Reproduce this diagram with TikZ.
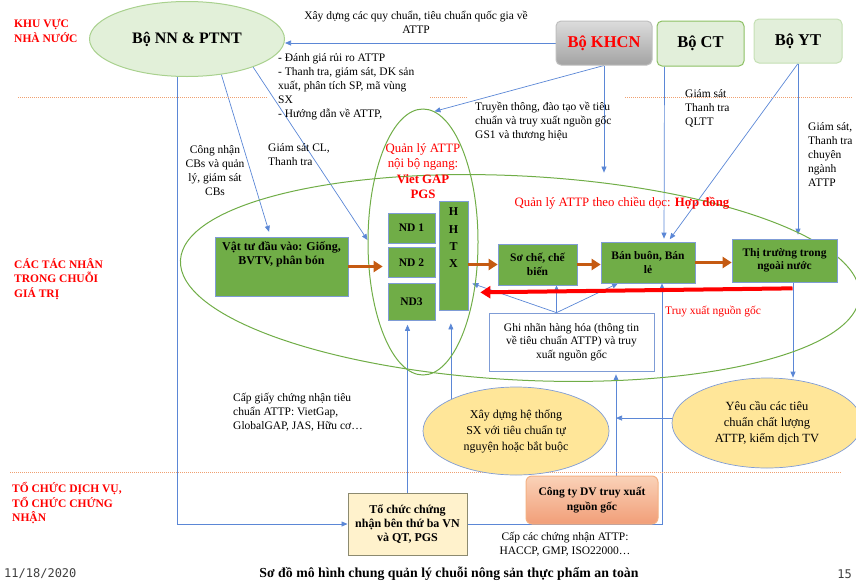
\documentclass[tikz,border=0pt]{standalone}
\usepackage{fontspec}
\setmainfont{Liberation Serif}
\newfontfamily\datefont{DejaVu Sans Mono}
\usepackage{tikz}
\usetikzlibrary{arrows.meta}
\usetikzlibrary{positioning, shapes.geometric, calc}
\definecolor{nnfill}{HTML}{E2F0D9}
\definecolor{nnline}{HTML}{A9D18E}
\definecolor{govfill}{HTML}{E2EFDA}
\definecolor{ctline}{HTML}{8CC063}
\definecolor{ytline}{HTML}{C5E0B4}
\definecolor{khtop}{HTML}{DCDCDC}
\definecolor{khbot}{HTML}{A3A3A3}
\definecolor{khline}{HTML}{BFBFBF}
\definecolor{boxgreen}{HTML}{70AD47}
\definecolor{boxblue}{HTML}{7F9CD6}
\definecolor{lineblue}{HTML}{5B87D6}
\definecolor{ellgreen}{HTML}{70AD47}
\definecolor{orarr}{HTML}{C55A11}
\definecolor{labred}{HTML}{FF0000}
\definecolor{yelfill}{HTML}{FFE699}
\definecolor{tcfill}{HTML}{FFF2CC}
\definecolor{tcline}{HTML}{8C8A70}
\definecolor{dvtop}{HTML}{FAD2B8}
\definecolor{dvbot}{HTML}{F19E78}
\definecolor{dvline}{HTML}{F4B183}
\definecolor{sepor}{HTML}{F0A070}
\newcommand{\setfs}[2]{\fontsize{#1}{#2}\selectfont}
\pgfdeclarelayer{background}
\pgfsetlayers{background,main}
\tikzset{
  lbl/.style={inner sep=0pt, font=\setfs{11.5}{14}},
  rlbl/.style={lbl, text=labred},
  sect/.style={inner sep=0pt, anchor=west, align=left, text=labred, font=\bfseries\setfs{11.5}{14.5}},
  gbox/.style={draw=boxblue, fill=boxgreen, line width=0.7pt, inner sep=0pt, align=center, font=\bfseries\setfs{11.5}{13.5}},
  gov/.style={rounded corners=5pt, line width=1pt, inner sep=0pt, minimum height=44pt, font=\bfseries\setfs{16.5}{18}},
  yell/.style={ellipse, draw=boxblue, fill=yelfill, line width=0.7pt, inner sep=0pt, align=center, font=\setfs{12}{16}},
  ring/.style={ellipse, draw=ellgreen, line width=1pt, inner sep=0pt},
  bl/.style={draw=lineblue, line width=0.7pt, -{Triangle[width=5pt,length=6pt]}},
  oarr/.style={draw=orarr, line width=3.5pt, -{Triangle[width=11pt,length=9pt]}},
  rarr/.style={draw=labred, line width=4pt, -{Triangle[width=12pt,length=10pt]}},
  divline/.style={draw=sepor, line width=0.8pt, dash pattern=on 1pt off 1pt}
}
\begin{document}
\begin{tikzpicture}[x=1pt, y=-1pt]
\useasboundingbox (0,0) rectangle (856,584);
\draw[divline] (18,97) -- (268,97) (430,97) -- (467,97) (625,97) -- (852,97);
\draw[divline] (10,472) -- (842,472);

\node[ring, minimum width=680pt, minimum height=204pt, rotate=-3] (chain) at (520,278) {};
\node[ring, minimum width=110pt, minimum height=266pt] (hz) at (423,242) {};

\node[ellipse, fill=nnfill, draw=nnline, line width=1pt, minimum width=195pt, minimum height=75pt, inner sep=0pt, font=\bfseries\setfs{16}{18}] (nn) at (187,39) {Bộ NN \& PTNT};
\node[gov, top color=khtop, bottom color=khbot, draw=khline, text=labred, minimum width=96pt] (khcn) at (604,43) {Bộ KHCN};
\node[gov, fill=govfill, draw=ctline, minimum width=87pt, minimum height=45pt] (ct) at (700.5,43.5) {Bộ CT};
\node[gov, fill=govfill, draw=ytline, minimum width=88pt] (yt) at (798,41) {Bộ YT};

\node[gbox, minimum width=133pt, minimum height=59pt] (vt) at (281.5,266.5) {};
\node[lbl, font=\bfseries\setfs{12}{14}, align=center, below=5pt of vt.north] (vtt) {Vật tư đầu vào: Giống,\\BVTV, phân bón};
\node[gbox, minimum width=47pt, minimum height=30pt] (nd1) at (411.5,228) {ND 1};
\node[gbox, minimum width=47pt, minimum height=30pt, below=4pt of nd1] (nd2) {ND 2};
\node[gbox, minimum width=47pt, minimum height=37pt, below=5pt of nd2] (nd3) {ND3};
\node[gbox, minimum width=29pt, minimum height=109pt] (hhtx) at (453.5,255.5) {};
\node[lbl, font=\bfseries\setfs{12}{17.3}, align=center, below=7pt of hhtx.north] (hhtxt) {H\\H\\T\\X};
\node[gbox, minimum width=79pt, minimum height=41pt] (sc) at (537.5,264.5) {Sơ chế, chế\\biến};
\node[gbox, minimum width=94pt, minimum height=41pt] (bb) at (648,262.5) {Bán buôn, Bán\\lẻ};
\node[gbox, minimum width=105pt, minimum height=43pt] (tt) at (784.5,260.5) {Thị trường trong\\ngoài nước};

\node[draw=boxblue, fill=white, line width=0.7pt, inner sep=0pt, minimum width=165pt, minimum height=58pt, align=center, font=\setfs{11.5}{13.5}] (gn) at (571.5,342) {Ghi nhãn hàng hóa (thông tin\\về tiêu chuẩn ATTP) và truy\\xuất nguồn gốc};
\node[yell, minimum width=186pt, minimum height=88pt] (xd) at (516,431) {Xây dựng hệ thống\\SX với tiêu chuẩn tự\\nguyện hoặc bắt buộc};
\node[yell, minimum width=190pt, minimum height=90pt, font=\setfs{12.5}{16}] (ye) at (767,423) {Yêu cầu các tiêu\\chuẩn chất lượng\\ATTP, kiểm dịch TV};
\node[draw=tcline, fill=tcfill, line width=1pt, inner sep=0pt, minimum width=119pt, minimum height=62pt, align=center, font=\bfseries\setfs{12}{14}] (tc) at (407.5,524) {Tổ chức chứng\\nhận bên thứ ba VN\\và QT, PGS};
\node[rounded corners=6pt, top color=dvtop, bottom color=dvbot, draw=dvline, line width=1pt, inner sep=0pt, minimum width=132pt, minimum height=48pt, align=center, font=\bfseries\setfs{11.5}{15}] (dv) at (592,500) {Công ty DV truy xuất\\nguồn gốc};

\begin{pgfonlayer}{background}
\draw[bl] (khcn.west) -- (khcn.west -| nn.east);
\draw[bl] (nn.256) |- (tc.west);
\draw[bl, shorten >=5pt] (nn.314) -- ($(vt.north)+(-11,0)$);
\draw[bl] (nn.337) -- (hz.178);
\draw[bl] (khcn.south) -- (hz.85);
\draw[bl, shorten >=3pt] (khcn.south) -- (khcn.south |- chain.north);
\draw[bl, shorten >=3pt] ($(ct.south west)+(8,0)$) -- ($(bb.north)+(16,0)$);
\draw[bl, shorten >=3pt] (yt.south) -- ($(bb.north)+(20,0)$);
\draw[bl, shorten >=4pt] (yt.south) -- (yt.south |- tt.north);
\coordinate (gnp) at ($(gn.north)+(-15,0)$);
\draw[bl] (gnp) -- ($(hhtx.east)+(4,28)$);
\draw[bl] (gnp) -- (gnp |- sc.south);
\draw[bl] (gnp) -- ($(bb.south)+(-30,0)$);
\draw[bl] (tc.east) -| ($(bb.south)+(14,0)$);
\coordinate (dvx) at ($(dv.north)+(24,0)$);
\draw[bl, shorten >=3pt] (dvx) -- (dvx |- gn.south);
\draw[bl] (ye.177) -- (ye.177 -| dvx);
\coordinate (ttb) at ($(tt.south)+(8.5,0)$);
\draw[bl] (ttb) -- (ttb |- ye.north);
\draw[bl, shorten >=4pt] (tc.north) -- (tc.north |- nd3.south);
\draw[bl, shorten >=13pt] (xd.154) -- (xd.154 |- hhtx.south);
\end{pgfonlayer}

\draw[oarr, shorten >=5pt] (vt.east) -- (vt.east -| nd2.west);
\draw[oarr] (sc.west -| hhtx.east) -- (sc.west);
\draw[oarr] (sc.east) -- (sc.east -| bb.west);
\draw[oarr] (bb.east) -- (bb.east -| tt.west);
\draw[rarr] ($(tt.south)+(8,6)$) -- ($(hhtx.south east)+(12,-18)$);

\node[lbl, align=center] (xdqc) at (416,22) {Xây dựng các quy chuẩn, tiêu chuẩn quốc gia về\\ATTP};
\node[lbl, align=left, anchor=west] (nnlist) at (278,87) {- Đánh giá rủi ro ATTP\\- Thanh tra, giám sát, DK sản\\xuất, phân tích SP, mã vùng\\SX\\- Hướng dẫn về ATTP,};
\node[lbl, align=center] (cn) at (215,171) {Công nhận\\CBs và quản\\lý, giám sát\\CBs};
\node[lbl, align=left, anchor=west] (gs) at (268,155) {Giám sát CL,\\Thanh tra};
\node[lbl, align=left, anchor=west] (tth) at (475,122) {Truyền thông, đào tạo về tiêu\\chuẩn và truy xuất nguồn gốc\\GS1 và thương hiệu};
\node[lbl, align=left, anchor=west] (ctl) at (685,108) {Giám sát\\Thanh tra\\QLTT};
\node[lbl, align=left, anchor=west] (ytl) at (808,154) {Giám sát,\\Thanh tra\\chuyên\\ngành\\ATTP};
\node[rlbl, align=center, font=\setfs{12.8}{15.3}] (ngang) at (423,171) {Quản lý ATTP\\nội bộ ngang:\\\textbf{Viet GAP}\\\textbf{PGS}};
\node[rlbl, font=\setfs{12.8}{15}] (doc) at (622,203) {Quản lý ATTP theo chiều dọc: \textbf{Hợp đồng}};
\node[rlbl] (txng) at (713,312) {Truy xuất nguồn gốc};
\node[lbl, align=left, anchor=west] (cg) at (233,412) {Cấp giấy chứng nhận tiêu\\chuẩn ATTP: VietGap,\\GlobalGAP, JAS, Hữu cơ…};
\node[lbl, align=center] (cc) at (565,544) {Cấp các chứng nhận ATTP:\\HACCP, GMP, ISO22000…};

\node[sect] (kv1) at (14,31) {KHU VỰC\\NHÀ NƯỚC};
\node[sect] (kv2) at (14,279) {CÁC TÁC NHÂN\\TRONG CHUỖI\\GIÁ TRỊ};
\node[sect] (kv3) at (12,503) {TỔ CHỨC DỊCH VỤ,\\TỔ CHỨC CHỨNG\\NHẬN};

\node[inner sep=0pt, anchor=west, text=black!75, font=\datefont\setfs{12}{14}] (date) at (4,574) {11/18/2020};
\node[inner sep=0pt, anchor=east, text=black!75, font=\datefont\setfs{12}{14}] (pg) at (852,574) {15};
\node[inner sep=0pt, font=\bfseries\setfs{13.8}{15}] (title) at (449,574) {Sơ đồ mô hình chung quản lý chuỗi nông sản thực phẩm an toàn};
\end{tikzpicture}
\end{document}
